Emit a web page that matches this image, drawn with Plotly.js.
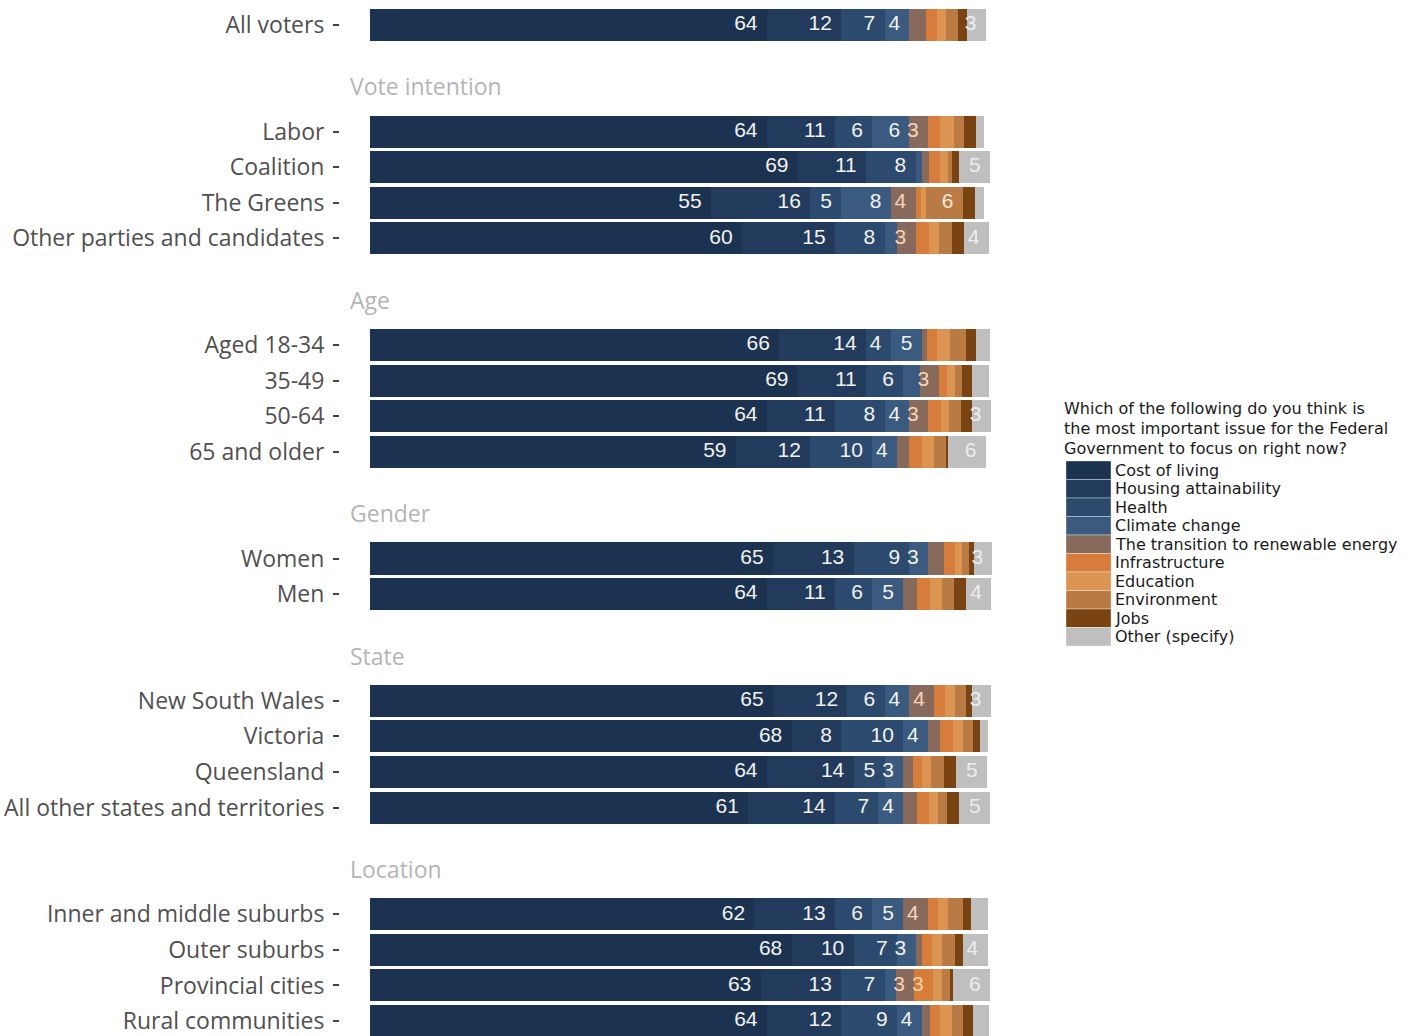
<!DOCTYPE html>
<html>
<head>
<meta charset="utf-8">
<script src="https://cdn.plot.ly/plotly-3.0.1.min.js"></script>
<style>
  html, body { margin: 0; padding: 0; background: #ffffff; }
  #chart { width: 1412px; height: 1036px; }
</style>
</head>
<body>
<div id="chart"></div>
<script>
// Row groups, top to bottom; a null name means the group has no heading
const groupNames = [null, 'Vote intention', 'Age', 'Gender', 'State', 'Location'];
const groupRows = [
  ['All voters'],
  ['Labor', 'Coalition', 'The Greens', 'Other parties and candidates'],
  ['Aged 18-34', '35-49', '50-64', '65 and older'],
  ['Women', 'Men'],
  ['New South Wales', 'Victoria', 'Queensland', 'All other states and territories'],
  ['Inner and middle suburbs', 'Outer suburbs', 'Provincial cities', 'Rural communities']
];

const issues = ['Cost of living', 'Housing attainability', 'Health', 'Climate change',
  'The transition to renewable energy', 'Infrastructure', 'Education', 'Environment',
  'Jobs', 'Other (specify)'];

// Share of respondents (%) choosing each issue, one value per row in the order above
const costOfLiving   = [64, 64, 69, 55, 60, 66, 69, 64, 59, 65, 64, 65, 68, 64, 61, 62, 68, 63, 64];
const housing        = [12, 11, 11, 16, 15, 14, 11, 11, 12, 13, 11, 12, 8, 14, 14, 13, 10, 13, 12];
const health         = [7, 6, 8, 5, 8, 4, 6, 8, 10, 9, 6, 6, 10, 5, 7, 6, 7, 7, 9];
const climateChange  = [4, 6, 1.0, 8, 2.0, 5, 2.7, 4, 4, 3, 5, 4, 4, 3, 4, 5, 3, 1.8, 4];
const renewables     = [2.6, 3, 1.1, 4, 3, 0.8, 3, 3, 1.9, 2.5, 2.3, 4, 1.9, 1.6, 2.2, 4, 1.1, 3, 1.3];
const infrastructure = [1.8, 1.9, 1.9, 0.8, 2.1, 1.6, 1.3, 2.1, 2.2, 1.9, 2.0, 1.8, 2.2, 1.5, 2.0, 1.6, 1.6, 3, 1.6];
const education      = [1.5, 2.3, 1.3, 0.8, 1.6, 2.2, 1.3, 1.3, 1.9, 1.1, 2.0, 1.5, 1.6, 1.4, 1.4, 1.6, 1.6, 1.5, 1.9];
const environment    = [1.9, 1.6, 0.6, 6, 2.2, 2.6, 1.2, 1.9, 1.9, 1.1, 1.9, 1.8, 1.6, 2.1, 1.5, 2.4, 2.0, 1.3, 1.9];
const jobs           = [1.5, 1.9, 1.1, 1.9, 1.9, 1.6, 1.6, 1.8, 0.4, 0.8, 2.0, 1.0, 1.1, 1.9, 1.9, 1.3, 1.3, 0.4, 1.6];
const otherIssue     = [3, 1.3, 5, 1.5, 4, 2.2, 2.7, 3, 6, 3, 4, 3, 1.3, 5, 5, 2.8, 4, 6, 2.6];

const seriesValues = [costOfLiving, housing, health, climateChange, renewables,
  infrastructure, education, environment, jobs, otherIssue];

// Fill colours and value-label colours per issue
const fillColors = ['#1b3250', '#223a5b', '#2c4a6e', '#3a5a7f', '#876a5c',
  '#d77d3b', '#dc9452', '#b97b43', '#7a4312', '#bfbfbf'];
const labelColors = ['#f2f2f2', '#f2f2f2', '#f2f2f2', '#f2f2f2', '#f8d3bb',
  '#fbd29e', '#fbe2c4', '#f5e8da', '#f2f2f2', '#ededed'];

const axisFont = 'Open Sans, Lato, sans-serif';
const keyFont = 'DejaVu Sans, sans-serif';

// Vertical positions: rows one unit apart, two blank units between groups
const rowNames = [];
const rowPos = [];
const headerPos = [];
let pos = 0;
groupRows.forEach((rows, g) => {
  if (g > 0) pos += 2;
  headerPos.push(pos);
  rows.forEach(r => { rowNames.push(r); rowPos.push(pos); pos += 1; });
});

const traces = [];
const cumulative = rowPos.map(() => 0);
seriesValues.forEach((vals, i) => {
  traces.push({
    type: 'bar',
    orientation: 'h',
    name: issues[i],
    x: vals,
    y: rowPos,
    width: 0.9,
    marker: { color: fillColors[i], line: { width: 0 } },
    showlegend: false,
    hoverinfo: 'skip'
  });
  // value labels sit just inside the right end of each segment of 3% or more
  const tx = [], ty = [], tt = [];
  vals.forEach((v, r) => {
    cumulative[r] += v;
    if (v >= 3) {
      tx.push(cumulative[r] - 1.5);
      ty.push(rowPos[r]);
      tt.push(String(Math.round(v)));
    }
  });
  traces.push({
    type: 'scatter',
    mode: 'text',
    x: tx,
    y: ty,
    text: tt,
    textposition: 'middle left',
    textfont: { family: 'Liberation Sans, Arial, sans-serif', size: 21, color: labelColors[i] },
    showlegend: false,
    hoverinfo: 'skip'
  });
});

// Pixel helpers for placing the key beside the panel
const L = 340, W = 680, T = 7, H = 1029;
const px2x = p => (p - L) / W;
const px2y = q => 1 - (q - T) / H;

const annotations = [];
const shapes = [];

groupNames.forEach((name, g) => {
  if (!name) return;
  annotations.push({
    text: name, xref: 'paper', yref: 'y', x: px2x(348), y: headerPos[g] - 1.27,
    xanchor: 'left', yanchor: 'middle', showarrow: false,
    font: { family: axisFont, size: 23, color: '#b5b5b5' }
  });
});

const keyTitle = ['Which of the following do you think is',
  'the most important issue for the Federal',
  'Government to focus on right now?'];
keyTitle.forEach((line, k) => {
  annotations.push({
    text: line, xref: 'paper', yref: 'paper', x: px2x(1062), y: px2y(408 + 20 * k),
    xanchor: 'left', yanchor: 'middle', showarrow: false,
    font: { family: keyFont, size: 16, color: '#1a1a1a' }
  });
});

const keyTop = 461, keyStep = 18.5;
issues.forEach((name, i) => {
  shapes.push({
    type: 'rect', xref: 'paper', yref: 'paper',
    x0: px2x(1066), x1: px2x(1111),
    y0: px2y(keyTop + keyStep * i), y1: px2y(keyTop + keyStep * (i + 1)),
    fillcolor: fillColors[i], line: { color: 'rgba(255,255,255,0.35)', width: 1 }
  });
  annotations.push({
    text: name, xref: 'paper', yref: 'paper', x: px2x(1113), y: px2y(keyTop + keyStep * (i + 0.5)),
    xanchor: 'left', yanchor: 'middle', showarrow: false,
    font: { family: keyFont, size: 16, color: '#1a1a1a' }
  });
});

const layout = {
  width: 1412,
  height: 1036,
  margin: { l: L, r: 1412 - L - W, t: T, b: 0, pad: 0 },
  paper_bgcolor: '#ffffff',
  plot_bgcolor: '#ffffff',
  barmode: 'stack',
  bargap: 0,
  showlegend: false,
  xaxis: {
    range: [-30 / 6.2, 100 + 30 / 6.2],
    visible: false,
    showgrid: false,
    zeroline: false,
    fixedrange: true
  },
  yaxis: {
    range: [28.42, -0.5],
    tickmode: 'array',
    tickvals: rowPos,
    ticktext: rowNames,
    ticks: 'outside',
    ticklen: 6,
    tickwidth: 2,
    tickcolor: '#444444',
    ticklabelstandoff: 4,
    ticklabeloverflow: 'allow',
    tickfont: { family: axisFont, size: 23, color: '#505050' },
    showgrid: false,
    zeroline: false,
    showline: false,
    fixedrange: true
  },
  annotations: annotations,
  shapes: shapes
};

Plotly.newPlot('chart', traces, layout, { displayModeBar: false, staticPlot: true });
</script>
</body>
</html>
